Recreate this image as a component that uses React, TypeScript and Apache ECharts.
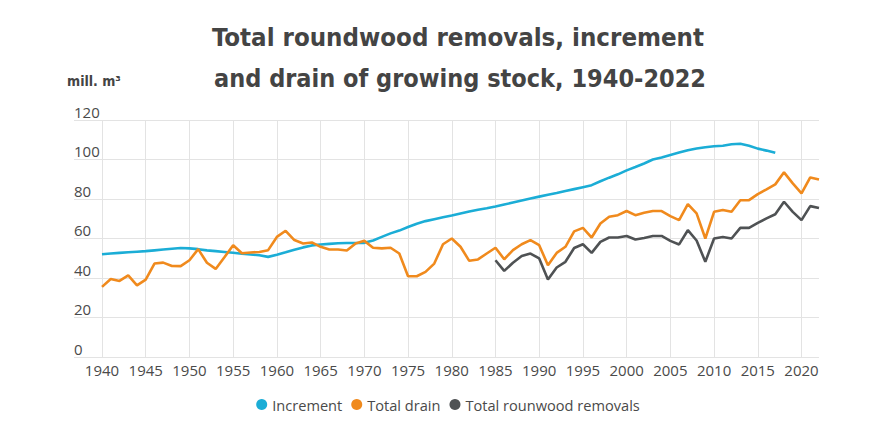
import React, { useEffect, useRef } from "react";
import * as echarts from "echarts";

const years: string[] = [];
for (let y = 1940; y <= 2022; y++) years.push(String(y));

// Increment 1940-2017
const increment: number[] = [
  52.0, 52.4, 52.7, 53.0, 53.3, 53.6, 54.0, 54.4, 54.8, 55.2,
  55.0, 54.6, 54.0, 53.6, 53.2, 52.8, 52.3, 51.9, 51.5, 50.7,
  51.8, 53.0, 54.3, 55.5, 56.5, 57.0, 57.3, 57.6, 57.7, 57.7,
  57.8, 59.0, 60.8, 62.6, 64.0, 65.8, 67.5, 68.8, 69.8, 70.8,
  71.6, 72.7, 73.7, 74.6, 75.3, 76.2, 77.2, 78.2, 79.2, 80.2,
  81.2, 82.2, 83.0, 84.0, 85.0, 86.0, 87.0, 89.0, 90.8, 92.5,
  94.5, 96.2, 98.0, 100.0, 101.0, 102.3, 103.5, 104.7, 105.6, 106.2,
  106.7, 107.0, 107.7, 108.0, 107.0, 105.5, 104.5, 103.4,
];

// Total drain 1940-2022
const totalDrain: number[] = [
  35.5, 39.5, 38.5, 41.3, 36.3, 39.2, 47.3, 47.8, 46.1, 46.0,
  49.0, 54.6, 47.7, 44.6, 50.5, 56.6, 52.5, 52.9, 53.2, 54.1,
  60.8, 63.9, 59.2, 57.5, 58.0, 55.8, 54.4, 54.4, 53.9, 57.5,
  58.8, 55.3, 55.0, 55.3, 52.4, 40.9, 40.9, 43.1, 47.3, 57.1,
  60.0, 55.8, 48.7, 49.4, 52.4, 55.3, 49.5, 54.1, 57.1, 59.2,
  56.6, 46.5, 52.7, 55.8, 63.6, 65.4, 60.5, 67.6, 71.0, 71.8,
  73.9, 71.8, 73.0, 73.9, 73.9, 71.3, 69.3, 77.4, 72.7, 60.0,
  73.5, 74.4, 73.5, 79.4, 79.4, 82.5, 84.9, 87.4, 93.5, 87.9,
  82.8, 90.9, 89.9,
];

// Total roundwood removals 1985-2022
const removalsStart = 1985;
const removals: number[] = [
  49.0, 43.6, 47.7, 51.1, 52.4, 49.9, 39.2, 45.3, 48.2, 55.2,
  57.1, 52.7, 58.3, 60.5, 60.5, 61.3, 59.5, 60.3, 61.3, 61.3,
  58.8, 57.0, 64.2, 59.0, 48.2, 60.0, 60.8, 60.0, 65.4, 65.4,
  67.9, 70.2, 72.3, 78.6, 73.5, 69.3, 76.4, 75.4,
];

const yTicks = { min: 0, max: 120, interval: 20 };

const titleLines = [
  "Total roundwood removals, increment",
  "and drain of growing stock, 1940-2022",
];
const unitLabel = "mill. m³";
const seriesNames = ["Increment", "Total drain", "Total rounwood removals"];
const colors = ["#1badd6", "#f08a1d", "#4f5254"];

const FONT = "'Open Sans', 'Noto Sans', sans-serif";
const TITLE_FONT = "'DejaVu Sans Condensed', 'Liberation Sans Narrow', sans-serif";

export default function App() {
  const ref = useRef<HTMLDivElement>(null);

  useEffect(() => {
    if (!ref.current) return;
    const chart = echarts.init(ref.current, undefined, { renderer: "svg" });

    const removalsData = years.map((y) => {
      const i = Number(y) - removalsStart;
      return i >= 0 && i < removals.length ? removals[i] : null;
    });

    chart.setOption({
      animation: false,
      backgroundColor: "#ffffff",
      textStyle: { fontFamily: FONT },
      graphic: [
        {
          type: "text",
          x: 458,
          y: 37,
          style: {
            text: titleLines[0],
            align: "center",
            verticalAlign: "middle",
            fontFamily: TITLE_FONT,
            fontWeight: "bold",
            fontSize: 25.6,
            fill: "#444444",
          },
        },
        {
          type: "text",
          x: 460,
          y: 78,
          style: {
            text: titleLines[1],
            align: "center",
            verticalAlign: "middle",
            fontFamily: TITLE_FONT,
            fontWeight: "bold",
            fontSize: 25,
            fill: "#444444",
          },
        },
        {
          type: "text",
          x: 67,
          y: 81,
          style: {
            text: unitLabel,
            align: "left",
            verticalAlign: "middle",
            fontFamily: TITLE_FONT,
            fontWeight: "bold",
            fontSize: 14,
            fill: "#444444",
          },
        },
      ],
      legend: {
        top: 392,
        left: "center",
        icon: "circle",
        itemWidth: 11,
        itemHeight: 11,
        itemGap: 9,
        textStyle: { fontFamily: FONT, fontSize: 14.6, color: "#4a4a4a" },
        data: seriesNames,
      },
      grid: [
        { left: 102, right: 77, top: 120, bottom: 67, containLabel: false },
        { left: 74, width: 28, top: 120, bottom: 67, containLabel: false },
      ],
      xAxis: [
        {
          type: "category",
          gridIndex: 0,
          data: years,
          boundaryGap: false,
          axisLine: { show: false },
          axisTick: { show: false },
          axisLabel: {
            interval: 4,
            margin: 5,
            fontSize: 15,
            color: "#4a4a4a",
            fontFamily: FONT,
          },
          splitLine: {
            show: true,
            interval: 4,
            lineStyle: { color: "#e3e3e3", width: 1 },
          },
        },
        {
          type: "category",
          gridIndex: 1,
          data: ["a"],
          show: false,
        },
      ],
      yAxis: [
        {
          type: "value",
          gridIndex: 0,
          ...yTicks,
          axisLine: { show: false },
          axisTick: { show: false },
          axisLabel: { show: false },
          splitLine: { lineStyle: { color: "#e3e3e3", width: 1 } },
        },
        {
          type: "value",
          gridIndex: 1,
          ...yTicks,
          axisLine: { show: false },
          axisTick: { show: false },
          axisLabel: {
            inside: true,
            align: "left",
            verticalAlign: "bottom",
            margin: 0,
            padding: [0, 0, 1, 0],
            fontSize: 15,
            color: "#4a4a4a",
            fontFamily: FONT,
          },
          splitLine: { lineStyle: { color: "#e3e3e3", width: 1 } },
        },
      ],
      series: [
        {
          name: seriesNames[0],
          type: "line",
          data: increment,
          symbol: "none",
          lineStyle: { width: 2.6, color: colors[0] },
          itemStyle: { color: colors[0] },
        },
        {
          name: seriesNames[1],
          type: "line",
          data: totalDrain,
          symbol: "none",
          lineStyle: { width: 2.6, color: colors[1] },
          itemStyle: { color: colors[1] },
        },
        {
          name: seriesNames[2],
          type: "line",
          data: removalsData,
          symbol: "none",
          connectNulls: false,
          lineStyle: { width: 2.6, color: colors[2] },
          itemStyle: { color: colors[2] },
        },
      ],
    });

    return () => chart.dispose();
  }, []);

  return (
    <div
      ref={ref}
      style={{ position: "fixed", left: 0, top: 0, width: 896, height: 424 }}
    />
  );
}
